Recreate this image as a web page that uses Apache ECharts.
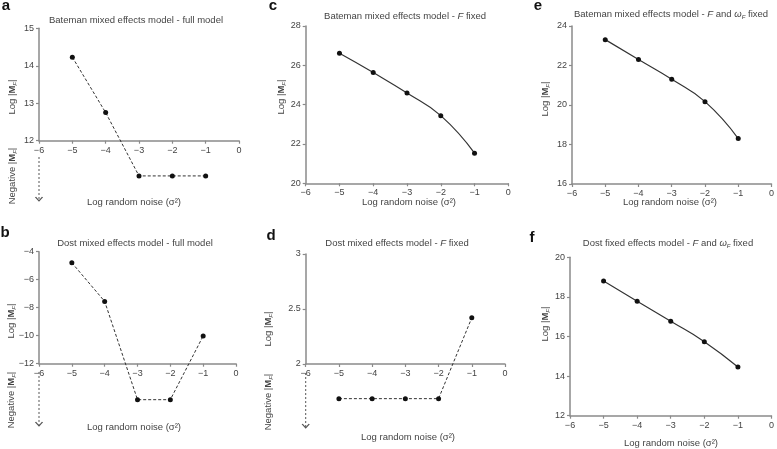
<!DOCTYPE html>
<html><head><meta charset="utf-8">
<script src="https://cdn.jsdelivr.net/npm/echarts@6/dist/echarts.min.js"></script>
<style>html,body{margin:0;padding:0;background:#fff}#c{width:777px;height:449px}</style>
</head><body><div id="c"></div>
<script>
// ---- data ----
const noiseLevels = [-5, -4, -3, -2, -1];
const xTicks = [-6, -5, -4, -3, -2, -1, 0];
// points below the x axis stand for "Negative |M_F|" (plotted at the level shown in the figure)
const batemanFull = [14.23, 12.75, 11.06, 11.06, 11.06];
const dostFull = [-4.79, -7.55, -14.57, -14.57, -10.02];
const batemanF = [26.61, 25.63, 24.59, 23.44, 21.53];
const dostF = [1.685, 1.685, 1.685, 1.685, 2.42];
const batemanFw = [23.31, 22.30, 21.30, 20.17, 18.30];
const dostFw = [18.80, 17.78, 16.77, 15.74, 14.46];
const yTicksA = [12, 13, 14, 15];
const yTicksB = [-12, -10, -8, -6, -4];
const yTicksC = [20, 22, 24, 26, 28];
const yTicksD = [2, 2.5, 3];
const yTicksE = [16, 18, 20, 22, 24];
const yTicksF = [12, 14, 16, 18, 20];
// "Negative |M_F|" arrow (start, end) on the y scale
const arrowA = [11.565, 10.39];
const arrowB = [-12.59, -16.45];
const arrowD = [1.918, 1.418];

const FONT = 'Liberation Sans, Arial, sans-serif';
function fmt(v) { return v < 0 ? '\u2212' + Math.abs(v) : String(v); }

const panels = [
  {grid: {left: 39, top: 28.3, width: 200, height: 112.4}, y: yTicksA, vals: batemanFull, dashed: true, arrow: arrowA},
  {grid: {left: 39, top: 251.7, width: 197, height: 112}, y: yTicksB, vals: dostFull, dashed: true, arrow: arrowB},
  {grid: {left: 305.7, top: 26, width: 202.6, height: 157.3}, y: yTicksC, vals: batemanF, dashed: false},
  {grid: {left: 305.7, top: 254, width: 199.3, height: 110}, y: yTicksD, vals: dostF, dashed: true, arrow: arrowD},
  {grid: {left: 572, top: 26, width: 202, height: 158}, y: yTicksE, vals: batemanFw, dashed: false},
  {grid: {left: 570, top: 257.3, width: 202, height: 158.4}, y: yTicksF, vals: dostFw, dashed: false}
];

const lineCol = {color: '#8a8a8a', width: 1.5};
const axisTick = {show: true, length: 3, lineStyle: {color: '#8a8a8a', width: 1.2}};
const grids = [], xAxes = [], yAxes = [], series = [];
panels.forEach((p, i) => {
  grids.push(Object.assign({containLabel: false}, p.grid));
  xAxes.push({
    gridIndex: i, type: 'value', min: xTicks[0], max: xTicks[xTicks.length - 1], interval: 1,
    position: 'bottom',
    axisLine: {show: true, onZero: false, lineStyle: lineCol}, axisTick: axisTick, splitLine: {show: false},
    axisLabel: {formatter: fmt, fontSize: 9, color: '#444', margin: 5, fontFamily: FONT}
  });
  yAxes.push({
    gridIndex: i, type: 'value', min: p.y[0], max: p.y[p.y.length - 1], interval: p.y[1] - p.y[0],
    position: 'left',
    axisLine: {show: true, onZero: false, lineStyle: lineCol}, axisTick: axisTick, splitLine: {show: false},
    axisLabel: {formatter: fmt, fontSize: 9, color: '#444', margin: 5, fontFamily: FONT}
  });
  series.push({
    type: 'line', xAxisIndex: i, yAxisIndex: i, clip: false,
    data: noiseLevels.map((x, k) => [x, p.vals[k]]),
    symbol: 'circle', symbolSize: 5, itemStyle: {color: '#111'},
    smooth: p.dashed ? false : 0.5,
    lineStyle: {color: '#333', width: p.dashed ? 1 : 1.2, type: p.dashed ? [3, 2] : 'solid'},
    z: 5
  });
  if (p.arrow) {
    series.push({
      type: 'line', xAxisIndex: i, yAxisIndex: i, clip: false, silent: true,
      data: [[xTicks[0], p.arrow[0]], [xTicks[0], p.arrow[1]]],
      symbol: (v, prm) => prm.dataIndex === 1 ? 'path://M0,0L5,6L10,0' : 'none',
      symbolSize: [7, 4], symbolOffset: [0, -2],
      itemStyle: {color: 'none', borderColor: '#555', borderWidth: 1},
      lineStyle: {color: '#555', width: 1, type: [2, 2]}
    });
  }
});

const rich = {
  n: {fontSize: 9.5, fontFamily: FONT, color: '#444'},
  i: {fontSize: 9.5, fontFamily: FONT, fontStyle: 'italic', color: '#444'},
  b: {fontSize: 9.5, fontFamily: FONT, fontWeight: 'bold', color: '#444'},
  s: {fontSize: 6, fontFamily: FONT, fontStyle: 'italic', color: '#444', verticalAlign: 'bottom', padding: [6, 0, 0, 0]}
};
function txt(x, y, text, rot, extra) {
  return {
    type: 'text', x: x, y: y, rotation: rot || 0, silent: true,
    style: Object.assign({
      text: text, rich: rich, fontSize: 9.5, fontFamily: FONT, fill: '#444',
      align: 'center', verticalAlign: 'middle', textAlign: 'center', textVerticalAlign: 'middle'
    }, extra || {})
  };
}
const logName = '{n|Log |}{b|M}{s|F}{n||}';
const negName = '{n|Negative |}{b|M}{s|F}{n||}';
const xName = 'Log random noise (\u03c3\u00b2)';
const letterStyle = {fontSize: 15, fontWeight: 'bold', fill: '#111'};
const R = Math.PI / 2;
const graphic = [
  txt(6, 6, 'a', 0, letterStyle), txt(273, 6, 'c', 0, letterStyle), txt(538, 6, 'e', 0, letterStyle),
  txt(5, 233, 'b', 0, letterStyle), txt(271, 236, 'd', 0, letterStyle), txt(532, 238, 'f', 0, letterStyle),
  txt(136, 20, '{n|Bateman mixed effects model - full model}'),
  txt(405, 16, '{n|Bateman mixed effects model - }{i|F}{n| fixed}'),
  txt(671, 14, '{n|Bateman mixed effects model - }{i|F}{n| and }{i|\u03c9}{s|F}{n| fixed}'),
  txt(135, 243, '{n|Dost mixed effects model - full model}'),
  txt(397, 243, '{n|Dost mixed effects model - }{i|F}{n| fixed}'),
  txt(668, 243, '{n|Dost fixed effects model - }{i|F}{n| and }{i|\u03c9}{s|F}{n| fixed}'),
  txt(12, 97, logName, R), txt(12, 176, negName, R),
  txt(281, 97, logName, R), txt(545, 99, logName, R),
  txt(11, 321, logName, R), txt(11, 400, negName, R),
  txt(268, 329, logName, R), txt(268, 402, negName, R),
  txt(545, 324, logName, R),
  txt(134, 202, xName), txt(409, 202, xName), txt(670, 202, xName),
  txt(134, 427, xName), txt(408, 437, xName), txt(671, 443, xName)
];

const chart = echarts.init(document.getElementById('c'), null, {renderer: 'canvas'});
chart.setOption({
  animation: false, backgroundColor: '#fff',
  grid: grids, xAxis: xAxes, yAxis: yAxes, series: series, graphic: graphic
});
</script></body></html>
